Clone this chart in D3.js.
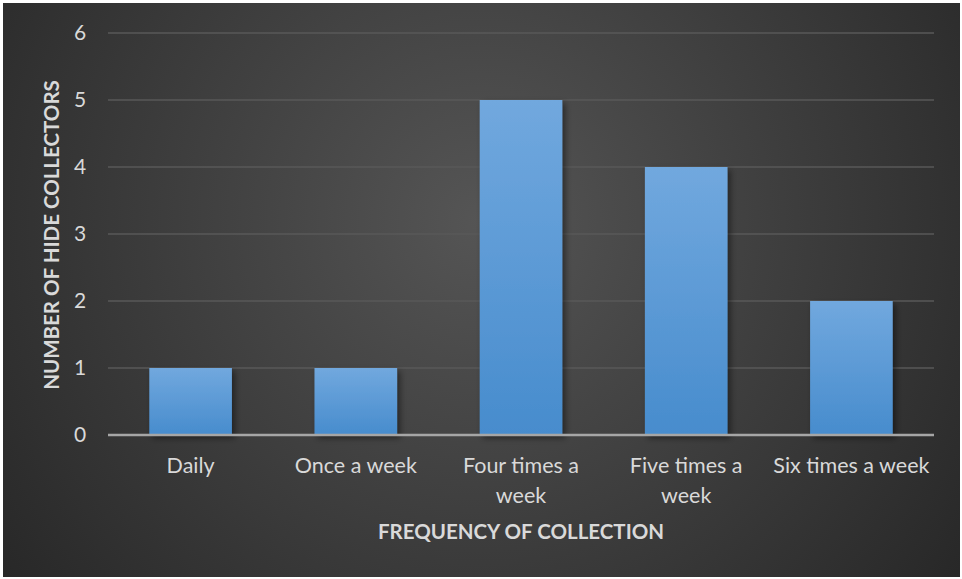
<!DOCTYPE html>
<html lang="en">
<head>
<meta charset="utf-8">
<title>hide collectors</title>
<script src="https://d3js.org/d3.v7.min.js"></script>
<style>
  body{margin:0;background:#fff;font-family:Lato, "Open Sans", sans-serif;}
</style>
</head>
<body>
<div id="chart"></div>
<script>
// data
var categories = ["Daily", "Once a week", "Four times a week", "Five times a week", "Six times a week"]
var catLines = [["Daily"], ["Once a week"], ["Four times a", "week"], ["Five times a", "week"], ["Six times a week"]]
var collectors = [1, 1, 5, 4, 2]
var yTicks = [0, 1, 2, 3, 4, 5, 6]

var W = 962, H = 579
var plotL = 108, plotR = 934, plotT = 33, plotB = 435

var svg = d3.select("#chart").append("svg").attr("width", W).attr("height", H)
var defs = svg.append("defs")

var bg = defs.append("radialGradient").attr("id", "bg")
    .attr("gradientUnits", "userSpaceOnUse")
    .attr("cx", 480).attr("cy", 220).attr("r", 620)
bg.append("stop").attr("offset", "0%").attr("stop-color", "#555555")
bg.append("stop").attr("offset", "100%").attr("stop-color", "#262626")

var barGrad = defs.append("linearGradient").attr("id", "bar")
    .attr("x1", 0).attr("y1", 0).attr("x2", 0).attr("y2", 1)
barGrad.append("stop").attr("offset", "0%").attr("stop-color", "#71a8de")
barGrad.append("stop").attr("offset", "100%").attr("stop-color", "#478ccd")

var shadow = defs.append("filter").attr("id", "shadow")
    .attr("x", "-20%").attr("y", "-20%").attr("width", "150%").attr("height", "150%")
shadow.append("feDropShadow").attr("dx", 3).attr("dy", 3).attr("stdDeviation", 3)
    .attr("flood-color", "#000").attr("flood-opacity", 0.45)

svg.append("rect").attr("x", 3).attr("y", 3).attr("width", W - 5).attr("height", H - 5)
    .attr("fill", "url(#bg)")

var x = d3.scaleBand().domain(categories).range([plotL, plotR]).paddingInner(0.5).paddingOuter(0.25)
var y = d3.scaleLinear().domain([0, 6]).range([plotB, plotT])

// gridlines
svg.selectAll(".grid").data(yTicks.slice(1)).enter().append("line")
    .attr("x1", plotL).attr("x2", plotR)
    .attr("y1", function(d){ return y(d) }).attr("y2", function(d){ return y(d) })
    .attr("stroke", "#595959").attr("stroke-width", 1.5)

// y tick labels
svg.selectAll(".ytick").data(yTicks).enter().append("text")
    .attr("x", 80).attr("y", function(d){ return y(d) + 7 })
    .attr("text-anchor", "middle").attr("fill", "#d9d9d9")
    .style("font-size", "21px")
    .text(function(d){ return d })

// bars
svg.selectAll(".bar").data(collectors).enter().append("rect")
    .attr("x", function(d, i){ return x(categories[i]) })
    .attr("y", function(d){ return y(d) })
    .attr("width", x.bandwidth())
    .attr("height", function(d){ return plotB - y(d) })
    .attr("fill", "url(#bar)")
    .attr("filter", "url(#shadow)")

// baseline
svg.append("line").attr("x1", plotL).attr("x2", plotR).attr("y1", plotB).attr("y2", plotB)
    .attr("stroke", "#a6a6a6").attr("stroke-width", 2.5)

// category labels
var lbl = svg.selectAll(".xlab").data(catLines).enter().append("text")
    .attr("text-anchor", "middle").attr("fill", "#d9d9d9")
    .style("font-size", "21.5px")
    .attr("transform", function(d, i){ return "translate(" + (x(categories[i]) + x.bandwidth() / 2) + ",473)" })
lbl.selectAll("tspan").data(function(d){ return d }).enter().append("tspan")
    .attr("x", 0).attr("dy", function(d, i){ return i == 0 ? 0 : 30 })
    .text(function(d){ return d })

// axis titles
svg.append("text").attr("x", 521).attr("y", 539).attr("text-anchor", "middle")
    .attr("fill", "#d9d9d9").style("font-size", "20.5px").style("font-weight", "bold")
    .text("FREQUENCY OF COLLECTION")

svg.append("text").attr("transform", "translate(59,235) rotate(-90)").attr("text-anchor", "middle")
    .attr("fill", "#d9d9d9").style("font-size", "20.5px").style("font-weight", "bold")
    .text("NUMBER OF HIDE COLLECTORS")
</script>
</body>
</html>
